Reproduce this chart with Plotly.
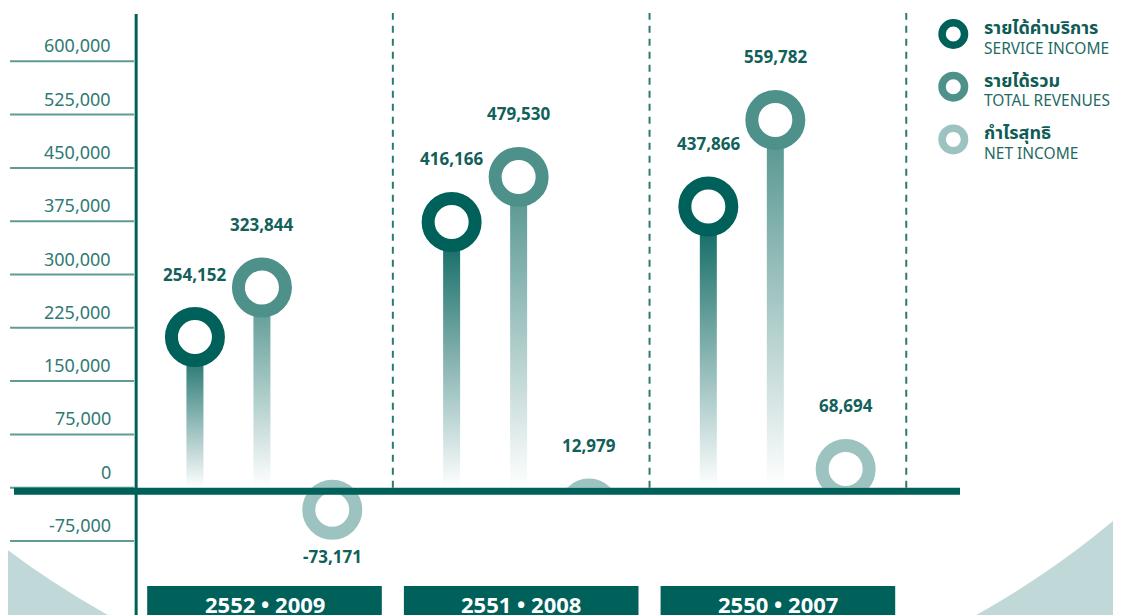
import plotly.graph_objects as go

# --- data -----------------------------------------------------------------
YEARS = ["2552 • 2009", "2551 • 2008", "2550 • 2007"]
SERVICE_INCOME = [254152, 416166, 437866]
TOTAL_REVENUES = [323844, 479530, 559782]
NET_INCOME = [-73171, 12979, 68694]
SERIES_TH = ["รายได้ค่าบริการ", "รายได้รวม", "กำไรสุทธิ"]
SERIES_EN = ["SERVICE INCOME", "TOTAL REVENUES", "NET INCOME"]
Y_TICKS = [600000, 525000, 450000, 375000, 300000, 225000, 150000, 75000, 0, -75000]

# --- look -----------------------------------------------------------------
PAGE_W, PAGE_H = 1121, 615
PAD = 8                                   # browser body margin
W, H = PAGE_W - PAD, PAGE_H - PAD
DARK = "#00605a"
COLORS = ["#00605a", "#4e918b", "#9cc3bf"]
OFFSETS = [-0.271, -0.01, 0.264]          # position of each series inside a year group
TICK_TXT = "#2f7a73"
LABEL_TXT = "#12605a"
FONT = "Noto Sans, Noto Sans Thai, sans-serif"


def px(p):
    """page x pixel -> paper fraction"""
    return (p - PAD) / W


def py(p):
    """page y pixel -> paper fraction"""
    return 1 - (p - PAD) / H


# pixel <-> data mapping (page pixels)
X_PX0, X_STEP = 264.5, 256.7            # pixel of first group centre, pixels per group
Y_PX0, Y_PX_PER = 487.7, 53.3 / 75000   # pixel of zero, pixels per unit
X_RANGE = [-(X_PX0 - PAD) / X_STEP, (PAGE_W - X_PX0) / X_STEP]
Y_RANGE = [-(PAGE_H - Y_PX0) / Y_PX_PER, (Y_PX0 - PAD) / Y_PX_PER]
Y2_BOTTOM = py(Y_PX0)

RING_OUT, RING_W = 60, 13
R_UNITS = (RING_OUT / 2) / Y_PX_PER      # ring top sits on the value
STEM_HW = 8.5 / X_STEP

fig = go.Figure()

series = [SERVICE_INCOME, TOTAL_REVENUES, NET_INCOME]
annotations = []
for s, values in enumerate(series):
    col = COLORS[s]
    pos_x, pos_y, neg_x, neg_y = [], [], [], []
    for i, v in enumerate(values):
        x = i + OFFSETS[s]
        centre = v - R_UNITS if v >= 0 else v + R_UNITS
        if v >= 0:
            pos_x.append(x)
            pos_y.append(centre)
            if centre > 0:
                fig.add_trace(go.Scatter(
                    x=[x - STEM_HW, x + STEM_HW, x + STEM_HW, x - STEM_HW, x - STEM_HW],
                    y=[0, 0, centre, centre, 0],
                    mode="lines", line=dict(width=0), fill="toself",
                    fillgradient=dict(type="vertical", colorscale=[[0, "rgba(255,255,255,1)"], [1, col]]),
                    xaxis="x", yaxis="y2", hoverinfo="skip", showlegend=False,
                ))
        else:
            neg_x.append(x)
            neg_y.append(centre)
        annotations.append(dict(
            x=x, y=v, xref="x", yref="y", text=f"<b>{v:,}</b>", showarrow=False,
            yshift=33 if v >= 0 else -17, yanchor="middle",
            font=dict(family=FONT, size=17, color=LABEL_TXT),
        ))
    ring = dict(size=RING_OUT - RING_W, color="white", line=dict(width=RING_W, color=col))
    if pos_x:
        fig.add_trace(go.Scatter(x=pos_x, y=pos_y, mode="markers", marker=ring,
                                 xaxis="x", yaxis="y2", cliponaxis=True,
                                 name=SERIES_EN[s], showlegend=False))
    if neg_x:
        fig.add_trace(go.Scatter(x=neg_x, y=neg_y, mode="markers", marker=ring,
                                 xaxis="x", yaxis="y", cliponaxis=True,
                                 name=SERIES_EN[s], showlegend=False))

shapes = []
# background: big white disc on light teal page
CX, CY, CR = 542, -163, 891
shapes.append(dict(type="circle", xref="paper", yref="paper", layer="below",
                   x0=px(CX - CR), x1=px(CX + CR), y0=py(CY + CR), y1=py(CY - CR),
                   fillcolor="white", line=dict(width=0)))

# y tick lines + labels
for t in Y_TICKS:
    shapes.append(dict(type="line", xref="paper", yref="y", x0=px(10), x1=px(134),
                       y0=t, y1=t, line=dict(color="#5e9c96", width=2)))
    annotations.append(dict(x=px(113), y=t, xref="paper", yref="y", text=f"{t:,}",
                            showarrow=False, xanchor="right", yanchor="middle", yshift=16,
                            font=dict(family=FONT, size=18, color=TICK_TXT)))

# dashed separators between years
for i in range(len(YEARS)):
    shapes.append(dict(type="line", xref="x", yref="paper", x0=i + 0.5, x1=i + 0.5,
                       y0=Y2_BOTTOM, y1=py(13),
                       line=dict(color="#2e7a73", width=2, dash="7px,6px")))

# vertical axis line
shapes.append(dict(type="line", xref="x", yref="paper", x0=-0.5, x1=-0.5, y0=0, y1=py(14),
                   line=dict(color=DARK, width=3)))

# zero baseline
shapes.append(dict(type="rect", xref="paper", yref="y", x0=px(14), x1=px(960),
                   ysizemode="pixel", yanchor=0, y0=-7, y1=0,
                   fillcolor=DARK, line=dict(width=0), layer="above"))

# year boxes
for i, yr in enumerate(YEARS):
    shapes.append(dict(type="rect", xref="x", yref="paper", x0=i - 0.457, x1=i + 0.457,
                       y0=-0.02, y1=py(586), fillcolor=DARK, line=dict(width=0)))
    annotations.append(dict(x=i, y=py(603.7), xref="x", yref="paper", text=f"<b>{yr}</b>",
                            showarrow=False, yanchor="middle",
                            font=dict(family=FONT, size=22, color="white")))

# legend
for s in range(3):
    cy = 34 + 52.7 * s
    shapes.append(dict(type="circle", xref="paper", yref="paper",
                       xsizemode="pixel", ysizemode="pixel",
                       xanchor=px(953.3), yanchor=py(cy),
                       x0=-11.25, x1=11.25, y0=-11.25, y1=11.25,
                       fillcolor="white", line=dict(color=COLORS[s], width=7.5)))
    annotations.append(dict(x=px(981.7), y=py(cy - 7), xref="paper", yref="paper",
                            text=f"<b>{SERIES_TH[s]}</b>", showarrow=False,
                            xanchor="left", yanchor="middle",
                            font=dict(family=FONT, size=18, color="#0f5c55")))
    annotations.append(dict(x=px(981.7), y=py(cy + 13.5), xref="paper", yref="paper",
                            text=SERIES_EN[s], showarrow=False,
                            xanchor="left", yanchor="middle",
                            font=dict(family=FONT, size=15.5, color="#1f6a63")))

fig.update_layout(
    width=W, height=H, margin=dict(l=0, r=0, t=0, b=0),
    paper_bgcolor="#c0d9d8", plot_bgcolor="rgba(0,0,0,0)",
    xaxis=dict(range=X_RANGE, visible=False, anchor="y", domain=[0, 1]),
    yaxis=dict(range=Y_RANGE, visible=False, anchor="x", domain=[0, 1]),
    yaxis2=dict(range=[0, Y_RANGE[1]], visible=False, anchor="x", domain=[Y2_BOTTOM, 1]),
    shapes=shapes, annotations=annotations, showlegend=False,
)

fig.write_html("out.html")
